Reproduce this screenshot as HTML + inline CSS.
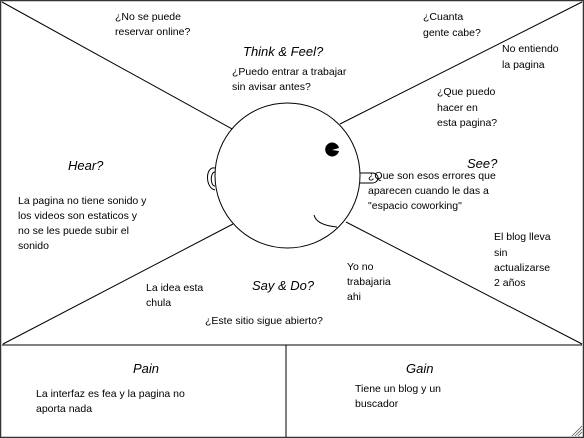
<!DOCTYPE html>
<html><head><meta charset="utf-8"><style>
html,body{margin:0;padding:0;background:#fff}
svg{display:block}
.t{font-family:"Liberation Sans",sans-serif;font-size:10.5px;fill:#000}
.h{font-family:"Liberation Sans",sans-serif;font-size:13px;font-style:italic;fill:#000}
</style></head><body>
<svg width="584" height="438" viewBox="0 0 584 438" xmlns="http://www.w3.org/2000/svg">
<rect x="0.5" y="0.5" width="583" height="437" fill="#fff" stroke="#333" stroke-width="1.5"/>
<g stroke="#000" stroke-width="1" fill="none">
<line x1="2" y1="2" x2="234" y2="130"/>
<line x1="582" y1="2" x2="340" y2="124"/>
<line x1="3" y1="344" x2="233" y2="224"/>
<line x1="582" y1="344" x2="346" y2="222"/>
<line x1="2" y1="345" x2="582" y2="345"/>
<line x1="286" y1="345" x2="286" y2="437"/>
<circle cx="287.5" cy="175.5" r="72.5" fill="#fff"/>
<path d="M215,168 C205,166 205,188 215,190"/>
<path d="M215,172 C210,172 210,186 215,186"/>
<path d="M360,173 L372,173 C380,173 380,183 372,183 L360,183"/>
<path d="M314,215 C316,223 326,226 337,227"/>
</g>
<path d="M339,151 A7,7 0 1 1 339,148 L332,150 Z" fill="#000"/>
<g stroke="#555" stroke-width="0.8">
<line x1="572" y1="436" x2="582" y2="426"/><line x1="575" y1="436" x2="582" y2="429"/><line x1="578" y1="436" x2="582" y2="432"/>
</g>
<text class="h" x="243" y="56">Think &amp; Feel?</text>
<text class="h" x="68" y="170">Hear?</text>
<text class="h" x="467" y="168">See?</text>
<text class="h" x="252" y="290">Say &amp; Do?</text>
<text class="h" x="133" y="373">Pain</text>
<text class="h" x="406" y="373">Gain</text>
<text class="t" x="115" y="20">¿No se puede</text>
<text class="t" x="115" y="35">reservar online?</text>
<text class="t" x="232" y="75">¿Puedo entrar a trabajar</text>
<text class="t" x="232" y="90">sin avisar antes?</text>
<text class="t" x="423" y="20">¿Cuanta</text>
<text class="t" x="423" y="36">gente cabe?</text>
<text class="t" x="502" y="52">No entiendo</text>
<text class="t" x="502" y="68">la pagina</text>
<text class="t" x="437" y="95">¿Que puedo</text>
<text class="t" x="437" y="111">hacer en</text>
<text class="t" x="437" y="126">esta pagina?</text>
<text class="t" x="368" y="179">¿Que son esos errores que</text>
<text class="t" x="368" y="194">aparecen cuando le das a</text>
<text class="t" x="368" y="209">"espacio coworking"</text>
<text class="t" x="18" y="204">La pagina no tiene sonido y</text>
<text class="t" x="18" y="219">los videos son estaticos y</text>
<text class="t" x="18" y="234">no se les puede subir el</text>
<text class="t" x="18" y="249">sonido</text>
<text class="t" x="494" y="240">El blog lleva</text>
<text class="t" x="494" y="256">sin</text>
<text class="t" x="494" y="271">actualizarse</text>
<text class="t" x="494" y="286">2 años</text>
<text class="t" x="347" y="270">Yo no</text>
<text class="t" x="347" y="285">trabajaria</text>
<text class="t" x="347" y="300">ahi</text>
<text class="t" x="146" y="291">La idea esta</text>
<text class="t" x="146" y="306">chula</text>
<text class="t" x="205" y="324">¿Este sitio sigue abierto?</text>
<text class="t" x="36" y="397">La interfaz es fea y la pagina no</text>
<text class="t" x="36" y="412">aporta nada</text>
<text class="t" x="355" y="392">Tiene un blog y un</text>
<text class="t" x="355" y="407">buscador</text>
</svg>
</body></html>
